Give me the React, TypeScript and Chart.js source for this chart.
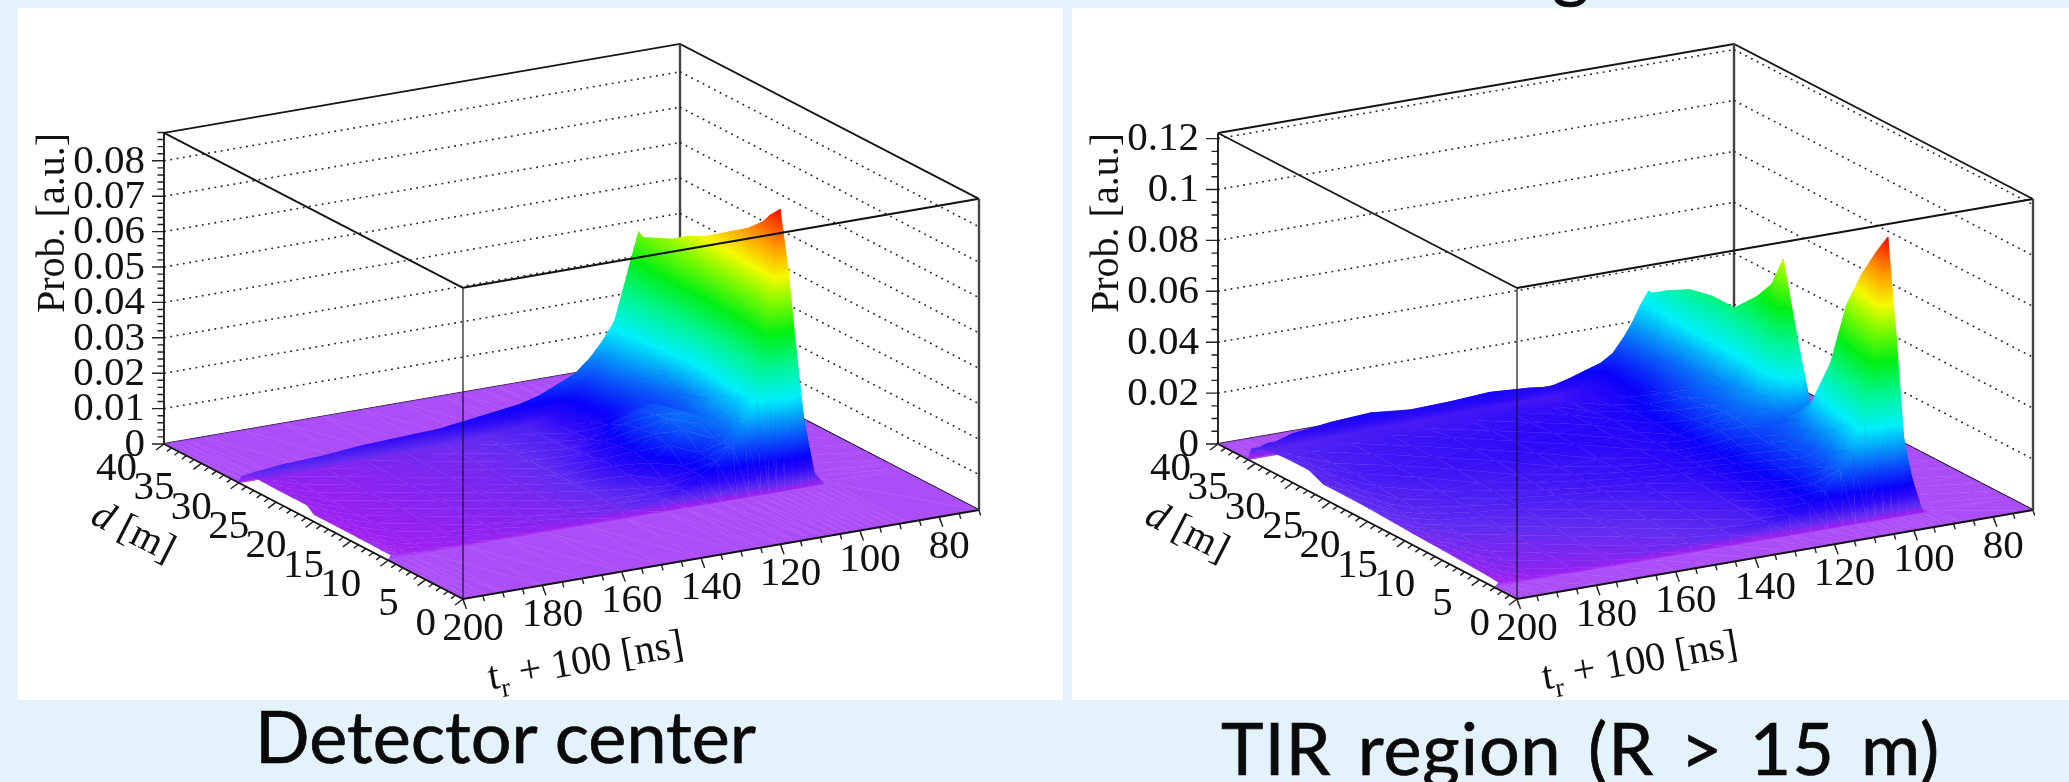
import React, { useEffect, useRef } from "react";
import { Chart, registerables } from "chart.js";

Chart.register(...registerables);

const N = null;

// time axis of both surfaces (t_r + 100, ns)
const tBins = [70, 88, 90, 92, 94, 96, 98, 100, 102, 104, 106, 109, 112, 116, 120, 125, 130, 140, 150, 160, 170, 180, 190, 194, 196, 198, 200];

// Detector center: probability x 1e-3, one list per d [m]
const leftD = [40, 30, 29.6, 29, 27, 25, 23, 21, 19, 17, 15, 13, 12, 10.7, 10, 0];
const c40 = tBins.map(() => 0);
const c30 = c40;
const c29_6 = [0, 0, 0, 0.5, 7, 18, 36, 52, 44, 36, 28, 23, 19, 15, 13, 10.5, 9, 7.5, 6, 5.5, 5, 4, 3.5, 3, 2.8, 2.5, 2.3];
const c29 = [0, 0, 0, 0.5, 7, 18, 36, 51, 43, 35, 27, 21, 16, 11, 8, 5, 3.5, 2.5, 2, 1.8, 1.5, 1.2, 1, 0.8, 0.7, N, N];
const c27 = [0, 0, 0, 0.5, 7, 19, 37, 53, 44, 34, 26, 20, 15, 10, 7.5, 5, 3.5, 2.4, 1.9, 1.7, 1.4, 1.1, 0.9, 0.7, 0.6, N, N];
const c25 = [0, 0, 0, 0.5, 7, 20, 38, 55, 45, 33, 24, 17, 13, 9, 7, 5, 3.5, 2.3, 1.8, 1.6, 1.3, 1, 0.8, 0.7, 0.6, N, N];
const c23 = [0, 0, 0, 0.6, 8, 21, 40, 58, 45, 31, 20, 15, 13, 11, 8.5, 5.5, 3.8, 2.3, 1.8, 1.5, 1.3, 1, 0.8, 0.7, 0.6, N, N];
const c21 = [0, 0, 0, 0.7, 9, 23, 42, 60, 44, 27, 17, 14, 15, 14, 11, 7, 4.5, 2.4, 1.8, 1.5, 1.3, 1, 0.8, 0.7, 0.6, 0.5, N];
const c19 = [0, 0, 0, 0.8, 10, 25, 45, 63, 46, 28, 18, 15, 16, 15, 12, 8, 5, 2.5, 1.8, 1.5, 1.2, 1, 0.8, 0.7, 0.6, 0.5, N];
const c17 = [0, 0, 0, 1, 11, 27, 48, 66, 48, 30, 20, 16, 17, 16, 12.5, 8.5, 5.5, 2.5, 1.8, 1.5, 1.2, 1, 0.8, 0.6, 0.5, 0.5, N];
const c15 = [0, 0, 0, 2, 13, 30, 52, 69, 50, 33, 23, 17, 16, 15, 11.5, 7.5, 5, 2.4, 1.7, 1.4, 1.1, 0.9, 0.7, 0.6, 0.5, 0.4, N];
const c13 = [0, 0, 0, 3, 15, 34, 56, 73, 52, 36, 24, 18, 14, 11, 8, 5, 3.6, 2.2, 1.6, 1.3, 1, 0.8, 0.6, 0.5, 0.4, 0.4, N];
const c12 = [0, 0, 0, 3.5, 17, 37, 59, 76, 54, 38, 26, 19, 14, 10.5, 7.5, 4.5, 3.2, 2, 1.5, 1.2, 1, 0.8, 0.6, 0.5, 0.4, 0.3, N];
const c10_7 = [0, 0, 0, 4, 18.6, 39, 62, 79, 60, 42, 28, 20, 15, 11, 8, 5, 3.5, 2, 1.5, 1.2, 1, 0.8, 0.6, 0.5, 0.4, 0.3, N];
const c10 = c40;
const c0 = c40;
const leftRows = [c40, c30, c29_6, c29, c27, c25, c23, c21, c19, c17, c15, c13, c12, c10_7, c10, c0];

// TIR region: probability x 1e-3, one list per d [m]
const rightD = [40, 36, 35.5, 35, 33, 30, 27, 24, 21, 19, 17.5, 16, 15, 13, 11, 9, 7, 5, 3.5, 3, 0];
const r40 = c40;
const r36 = c40;
const r35_5 = [0, 0, 0, 0.5, 8, 20, 32, 40, 35, 29, 24, 18, 15, 13, 11, 9, 10, 11, 10, 9.5, 11, 10, 8, 6, 6, 5, 5];
const r35 = [0, 0, 0, 0.5, 8, 20, 32, 40, 34, 28, 22, 16, 12, 9, 7, 6, 6, 6, 6, 5.5, 5.5, 5, 4.5, 4, 3.5, N, N];
const r33 = [0, 0, 0, 0.5, 8, 22, 36, 44, 36, 28, 22, 16, 12, 10, 8, 7, 7, 7, 6.5, 6, 6, 5.5, 5, 4.5, 4, N, N];
const r30 = [0, 0, 0, 0.6, 9, 24, 38, 49, 38, 29, 22, 17, 13, 11, 9, 8, 8, 7.5, 7, 7, 6.5, 6, 5, 4.5, 4, N, N];
const r27 = [0, 0, 0, 0.6, 9, 24, 40, 51, 40, 30, 24, 19, 16, 13, 11, 9, 8.5, 8, 7.5, 7, 6.5, 6, 5.5, 5, 4.5, 3.5, N];
const r24 = [0, 0, 0, 0.6, 9, 25, 40, 51, 42, 32, 26, 22, 19, 15, 11, 9, 8, 8, 7.5, 7, 6.5, 6, 5, 4.5, 4, 3.5, N];
const r21 = [0, 0, 0, 0.7, 10, 28, 46, 60, 46, 33, 26, 23, 20, 16, 11, 9, 8, 7, 6.5, 6, 5.5, 5, 4.5, 4, 3.8, 3.3, N];
const r19 = [0, 0, 0, 0.8, 11, 30, 50, 68, 50, 36, 28, 24, 21, 17, 12, 9, 8, 7, 6.5, 6, 5.5, 5, 4.2, 3.8, 3.5, 3, N];
const r17_5 = [0, 0, 0, 0.8, 13, 34, 60, 80, 58, 38, 28, 24, 21, 17, 12, 9, 8, 7, 6.5, 5.5, 5, 4.5, 4, 3.6, 3.2, 2.8, N];
const r16 = [0, 0, 0, 0.6, 9, 24, 40, 52, 40, 30, 25, 22, 20, 16, 12, 9, 8, 7, 6, 5.5, 5, 4.5, 4, 3.5, 3, 2.6, N];
const r15 = [0, 0, 0, 0.4, 5, 12, 19, 23, 23, 22, 21, 20, 18, 15, 11, 9, 7.5, 6.5, 6, 5, 4.5, 4, 3.5, 3.2, 2.8, 2.4, N];
const r13 = [0, 0, 0, 0.4, 6, 16, 26, 32, 29, 25, 22, 20, 18, 15, 12, 9, 7, 6, 5, 4.5, 4, 3.5, 3, 2.8, 2.5, 2.2, N];
const r11 = [0, 0, 0, 0.5, 8, 22, 38, 50, 40, 30, 24, 21, 18, 15, 12, 9, 6.5, 5.5, 4.5, 4, 3.5, 3, 2.7, 2.5, 2.2, 2, N];
const r9 = [0, 0, 0, 0.7, 12, 30, 55, 75, 56, 38, 27, 21, 18, 15, 11, 8, 6, 5, 4, 3.5, 3, 2.6, 2.3, 2.1, 1.9, 1.7, N];
const r7 = [0, 0, 0, 0.8, 13, 30, 62, 90, 68, 46, 31, 23, 18, 14, 11, 8, 5.5, 4.5, 3.5, 3, 2.5, 2.2, 2, 1.8, 1.6, 1.4, N];
const r5 = [0, 0, 0, 1, 14, 30, 68, 102, 78, 54, 37, 26, 20, 15, 11, 8, 5, 4, 3, 2.5, 2, 1.8, 1.6, 1.4, 1.2, 1.1, N];
const r3_5 = [0, 0, 0, 1, 14, 30, 72, 110, 85, 60, 42, 28, 22, 15, 11, 8, 6, 4, 3, 2.5, 2, 1.5, 1, 0.8, 0.7, 0.6, N];
const r3 = c40;
const r0 = c40;
const rightRows = [r40, r36, r35_5, r35, r33, r30, r27, r24, r21, r19, r17_5, r16, r15, r13, r11, r9, r7, r5, r3_5, r3, r0];

// axis labels
const leftZTicks = ["0", "0.01", "0.02", "0.03", "0.04", "0.05", "0.06", "0.07", "0.08"];
const rightZTicks = ["0", "0.02", "0.04", "0.06", "0.08", "0.1", "0.12"];
const dTicks = [0, 5, 10, 15, 20, 25, 30, 35, 40];
const tTicks = [200, 180, 160, 140, 120, 100, 80];
const captions = ["Detector center", "TIR region (R > 15 m)"];

// rainbow colour table: fraction of the surface maximum -> rgb
const palette: [number, number[]][] = [
  [0, [172, 78, 248]],
  [0.006, [158, 32, 240]],
  [0.03, [98, 44, 240]],
  [0.07, [45, 10, 248]],
  [0.11, [10, 0, 250]],
  [0.2, [10, 95, 250]],
  [0.33, [0, 240, 250]],
  [0.44, [0, 245, 150]],
  [0.56, [0, 240, 20]],
  [0.68, [140, 250, 0]],
  [0.76, [245, 250, 0]],
  [0.87, [255, 150, 0]],
  [1, [245, 10, 0]],
];

const colorAt = (f: number) => {
  const v = Math.max(0, Math.min(1, f));
  for (let i = 1; i < palette.length; i++) {
    if (v <= palette[i][0]) {
      const [a, ca] = palette[i - 1];
      const [b, cb] = palette[i];
      const k = (v - a) / (b - a);
      return `rgb(${ca.map((c, j) => Math.round(c + (cb[j] - c) * k)).join(",")})`;
    }
  }
  return "rgb(245,10,0)";
};

type Panel = {
  left: number; top: number; width: number; height: number;
  fx: number; zPx: number; zMax: number; peak: number;
  dBins: number[]; rows: (number | null)[][];
  zTicks: string[]; zMajor: number; zMinor: number;
};

const panels: Panel[] = [
  { left: 18, top: 8, width: 1045, height: 692, fx: 463, zPx: 3540, zMax: 0.0879, peak: 0.079, dBins: leftD, rows: leftRows, zTicks: leftZTicks, zMajor: 0.01, zMinor: 0.002 },
  { left: 1072, top: 8, width: 997, height: 692, fx: 1517, zPx: 2545, zMax: 0.1222, peak: 0.11, dBins: rightD, rows: rightRows, zTicks: rightZTicks, zMajor: 0.02, zMinor: 0.005 },
];

const SERIF = '"Liberation Serif", serif';

function project(p: Panel, t: number, d: number, z: number) {
  const u = (200 - t) / 130;
  const v = d / 40;
  return { x: p.fx + 516 * u - 299 * v, y: 599 - 89 * u - 155 * v - z * p.zPx };
}

function triangleGradient(chart: any, p: Panel, pts: any[], zs: number[]) {
  const sx = chart.scales.x, sy = chart.scales.y;
  const meanColor = colorAt((zs[0] + zs[1] + zs[2]) / 3 / p.peak);
  if (!sx || !sy) return meanColor;
  const px = pts.map((q) => ({ x: sx.getPixelForValue(q.x), y: sy.getPixelForValue(q.y) }));
  if (px.some((q) => !Number.isFinite(q.x) || !Number.isFinite(q.y))) return meanColor;
  const [lo, mid, hi] = [0, 1, 2].sort((a, b) => zs[a] - zs[b]);
  const zl = zs[lo], zh = zs[hi];
  if (zh - zl < 1e-6) return colorAt(zl / p.peak);
  const k = (zs[mid] - zl) / (zh - zl);
  const qx = px[lo].x + (px[hi].x - px[lo].x) * k;
  const qy = px[lo].y + (px[hi].y - px[lo].y) * k;
  let ix = px[mid].x - qx, iy = px[mid].y - qy;
  const len = Math.hypot(ix, iy);
  let nx: number, ny: number;
  if (len < 1e-3) {
    const a = Math.hypot(px[hi].x - px[lo].x, px[hi].y - px[lo].y) || 1;
    nx = (px[hi].x - px[lo].x) / a; ny = (px[hi].y - px[lo].y) / a;
  } else {
    ix /= len; iy /= len;
    nx = -iy; ny = ix;
  }
  const dot = (px[hi].x - px[lo].x) * nx + (px[hi].y - px[lo].y) * ny;
  const g = chart.ctx.createLinearGradient(px[lo].x, px[lo].y, px[lo].x + nx * dot, px[lo].y + ny * dot);
  const fl = zl / p.peak, fh = zh / p.peak;
  g.addColorStop(0, colorAt(fl));
  for (const [f] of palette) {
    if (f > fl && f < fh) g.addColorStop((f - fl) / (fh - fl), colorAt(f));
  }
  g.addColorStop(1, colorAt(fh));
  return g;
}

function surfaceDatasets(p: Panel) {
  const out: any[] = [];
  const has = (q: any) => q.z !== null && q.z !== undefined;
  for (let r = 0; r < p.dBins.length - 1; r++) {
    for (let c = 0; c < tBins.length - 1; c++) {
      const corner = (ri: number, ci: number) => ({ t: tBins[ci], d: p.dBins[ri], z: p.rows[ri][ci] });
      const a = corner(r, c), b = corner(r, c + 1), e = corner(r + 1, c + 1), f = corner(r + 1, c);
      const quad = [a, b, e, f];
      const present = quad.filter(has);
      let tris: any[][] = [];
      if (present.length === 4) tris = [[a, b, f], [b, e, f]];
      else if (present.length === 3) tris = [present];
      for (const tri of tris) {
        const zs = tri.map((q) => (q.z as number) / 1000);
        const pts = tri.map((q, i) => project(p, q.t, q.d, zs[i]));
        const paint = (ctx: any) => triangleGradient(ctx.chart, p, pts, zs);
        out.push({ data: pts, fill: "shape", backgroundColor: paint, borderColor: paint, borderWidth: 0.7, pointRadius: 0, tension: 0, clip: false });
      }
    }
  }
  return out;
}

const segs = (list: { x: number; y: number }[][]) => {
  const data: any[] = [];
  for (const s of list) {
    for (const q of s) data.push(q);
    data.push({ x: s[s.length - 1].x, y: null });
  }
  return data;
};

const lineSet = (list: any[][], color: string, width: number, dash: number[] = []) => ({
  data: segs(list), borderColor: color, borderWidth: width, borderDash: dash, pointRadius: 0, tension: 0, fill: false, clip: false, spanGaps: false,
});

function range(from: number, to: number, step: number) {
  const o: number[] = [];
  const n = Math.round((to - from) / step);
  for (let i = 0; i <= n; i++) o.push(from + i * step);
  return o;
}

function buildDatasets(p: Panel) {
  const P = (t: number, d: number, z: number) => project(p, t, d, z);
  const zTop = p.zMax;
  const levels = p.zTicks.map((_, i) => i * p.zMajor).filter((z) => z > 0);
  const dots = levels.flatMap((z) => [[P(200, 40, z), P(70, 40, z)], [P(70, 40, z), P(70, 0, z)]]);
  const back = [
    lineSet(dots, "#222", 1.6, [1.8, 4.6]),
    lineSet([[P(70, 40, 0), P(70, 40, zTop)]], "#444", 2.4),
    lineSet([[P(200, 40, zTop), P(70, 40, zTop), P(70, 0, zTop)], [P(200, 40, zTop), P(200, 0, zTop)]], "#151515", 1.8),
    lineSet([[P(200, 40, 0), P(70, 40, 0), P(70, 0, 0)]], "#111", 1.8),
  ];
  const L = P(200, 40, 0);
  const zMaj = range(0, p.zMajor * (p.zTicks.length - 1), p.zMajor).map((z) => { const q = P(200, 40, z); return [{ x: q.x - 12, y: q.y }, q]; });
  const zMin = range(0, zTop, p.zMinor).map((z) => { const q = P(200, 40, z); return [{ x: q.x - 6.5, y: q.y }, q]; });
  const dMaj = dTicks.map((d) => { const q = P(200, d, 0); return [q, { x: q.x - 8, y: q.y + 6 }]; });
  const dMin = range(0, 40, 1).map((d) => { const q = P(200, d, 0); return [q, { x: q.x - 4.5, y: q.y + 3.5 }]; });
  const tMaj = tTicks.map((t) => { const q = P(t, 0, 0); return [q, { x: q.x + 3.5, y: q.y + 10 }]; });
  const tMin = range(70, 200, 5).map((t) => { const q = P(t, 0, 0); return [q, { x: q.x + 1.6, y: q.y + 5.5 }]; });
  const front = [
    lineSet([[P(200, 0, 0), P(200, 0, zTop)]], "rgba(20,20,40,0.85)", 1.4),
    lineSet([[P(70, 0, 0), P(70, 0, zTop)]], "#444", 2.4),
    lineSet([[P(200, 0, zTop), P(70, 0, zTop)]], "#111", 2),
    lineSet([[L, P(200, 40, zTop)], [L, P(200, 0, 0), P(70, 0, 0)]], "#111", 1.8),
    lineSet([...zMaj, ...zMin, ...dMaj, ...dMin, ...tMaj, ...tMin], "#222", 1.4),
  ];
  return [...front, ...surfaceDatasets(p).reverse(), ...back];
}

const labelPlugin = (p: Panel) => ({
  id: "axisText",
  afterDraw(chart: any) {
    const { ctx, scales } = chart;
    const X = (v: number) => scales.x.getPixelForValue(v);
    const Y = (v: number) => scales.y.getPixelForValue(v);
    const font = (s: number, it = false) => `${it ? "italic " : ""}${s}px ${SERIF}`;
    ctx.save();
    ctx.fillStyle = "#111";
    ctx.font = font(41);
    ctx.textBaseline = "middle";
    ctx.textAlign = "right";
    p.zTicks.forEach((s, i) => {
      const q = project(p, 200, 40, i * p.zMajor);
      ctx.fillText(s, X(q.x - 19), Y(q.y + 1));
    });
    dTicks.forEach((d) => {
      const q = project(p, 200, d, 0);
      ctx.fillText(String(d), X(q.x - 27), Y(q.y + 25));
    });
    ctx.textAlign = "center";
    tTicks.forEach((t) => {
      const q = project(p, t, 0, 0);
      ctx.fillText(String(t), X(q.x + 10), Y(q.y + 30));
    });
    const L = project(p, 200, 40, 0);
    ctx.save();
    ctx.translate(X(L.x - 111), Y(223));
    ctx.rotate(-Math.PI / 2);
    ctx.font = font(40);
    ctx.fillText("Prob. [a.u.]", 0, 0);
    ctx.restore();
    ctx.save();
    ctx.translate(X(L.x - 31), Y(533));
    ctx.rotate((27 * Math.PI) / 180);
    ctx.font = font(40, true);
    ctx.textAlign = "left";
    ctx.fillText("d", -44, 0);
    ctx.font = font(40);
    ctx.fillText(" [m]", -24, 0);
    ctx.restore();
    ctx.save();
    ctx.translate(X(p.fx + 124), Y(662));
    ctx.rotate((-9.8 * Math.PI) / 180);
    ctx.textAlign = "left";
    ctx.font = font(40.5);
    ctx.fillText("t", -100, 0);
    ctx.font = font(27);
    ctx.fillText("r", -89, 13);
    ctx.font = font(40.5);
    ctx.fillText(" + 100 [ns]", -79, 0);
    ctx.restore();
    ctx.restore();
  },
});

function PanelChart({ panel }: { panel: Panel }) {
  const ref = useRef<HTMLCanvasElement>(null);
  useEffect(() => {
    const chart = new Chart(ref.current as HTMLCanvasElement, {
      type: "line",
      data: { datasets: buildDatasets(panel) as any },
      plugins: [labelPlugin(panel)],
      options: {
        animation: false,
        responsive: false,
        maintainAspectRatio: false,
        events: [],
        layout: { padding: 0 },
        plugins: { legend: { display: false }, tooltip: { enabled: false }, title: { display: false } },
        scales: {
          x: { type: "linear", display: false, min: panel.left, max: panel.left + panel.width },
          y: { type: "linear", display: false, min: panel.top, max: panel.top + panel.height, reverse: true },
        },
      } as any,
    });
    return () => chart.destroy();
  }, [panel]);
  return (
    <canvas
      ref={ref}
      width={panel.width}
      height={panel.height}
      style={{ position: "absolute", left: panel.left, top: panel.top, width: panel.width, height: panel.height, background: "#fff", display: "block" }}
    />
  );
}

const captionStyle: React.CSSProperties = { position: "absolute", fontFamily: "Lato, sans-serif", fontSize: 72, lineHeight: "72px", whiteSpace: "nowrap", color: "#0a0a0a", WebkitTextStroke: "0.7px #0a0a0a" };

export default function App() {
  return (
    <div style={{ position: "fixed", left: 0, top: 0, width: 2069, height: 782, overflow: "hidden", background: "#e4f2fc" }}>
      {panels.map((p, i) => <PanelChart key={i} panel={p} />)}
      <div style={{ ...captionStyle, left: 255, top: 699 }}>{captions[0]}</div>
      <div style={{ ...captionStyle, left: 1221, top: 711, wordSpacing: 7, letterSpacing: 0.9 }}>{captions[1]}</div>
      <div style={{ ...captionStyle, left: 1552, top: -70 }}>g</div>
    </div>
  );
}
